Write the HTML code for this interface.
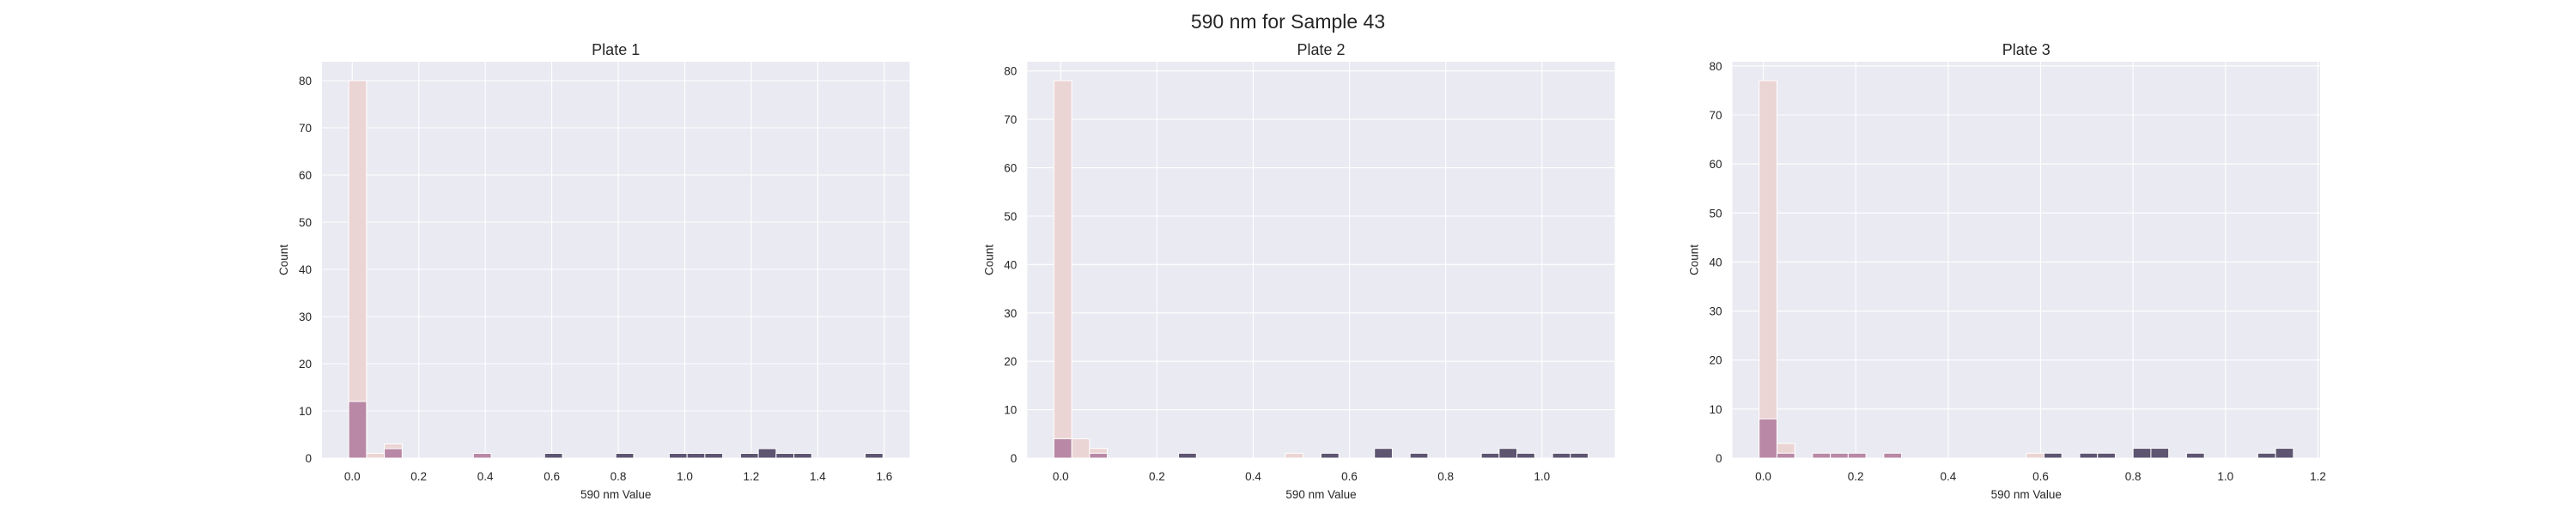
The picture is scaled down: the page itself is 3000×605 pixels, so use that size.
<!DOCTYPE html>
<html><head><meta charset="utf-8"><style>
html,body{margin:0;padding:0;background:#fff;}
svg text{font-family:"Liberation Sans",sans-serif;fill:#262626;}
</style></head><body>
<svg id="fig" xmlns="http://www.w3.org/2000/svg" width="3000" height="600" viewBox="0 0 3000 600">
<rect width="3000" height="600" fill="#fff"/>
<text x="1500" y="33" font-size="23" text-anchor="middle">590 nm for Sample 43</text>
</svg>
<script>
// Plate 1
const p1Light = {0:80,1:1,2:3};
const p1Mid = {0:12,2:2,7:1};
const p1Dark = {11:1,15:1,18:1,19:1,20:1,22:1,23:2,24:1,25:1,29:1};
const p1XTicks = [0.0,0.2,0.4,0.6,0.8,1.0,1.2,1.4,1.6];
const p1Range = [-0.0107, 1.596];
// Plate 2
const p2Light = {0:78,1:4,2:2,13:1};
const p2Mid = {0:4,2:1};
const p2Dark = {7:1,15:1,18:2,20:1,24:1,25:2,26:1,28:1,29:1};
const p2XTicks = [0.0,0.2,0.4,0.6,0.8,1.0];
const p2Range = [-0.0141, 1.096];
// Plate 3
const p3Light = {0:77,1:3,15:1};
const p3Mid = {0:8,1:1,3:1,4:1,5:1,7:1};
const p3Dark = {16:1,18:1,19:1,21:2,22:2,24:1,28:1,29:2};
const p3XTicks = [0.0,0.2,0.4,0.6,0.8,1.0,1.2];
const p3Range = [-0.009, 1.1468];
const yTicks = [0,10,20,30,40,50,60,70,80];
const plateNames = ["Plate 1","Plate 2","Plate 3"];
const nBins = 30;

const NS="http://www.w3.org/2000/svg";
const svg=document.getElementById('fig');
function mk(tag,attrs,parent){const e=document.createElementNS(NS,tag);for(const k in attrs)e.setAttribute(k,attrs[k]);(parent||svg).appendChild(e);return e;}
const axW=684.4, axTop=72, axBot=534;
const axLefts=[375, 375+axW*1.2, 375+axW*2.4];
const plates=[[p1Light,p1Mid,p1Dark,p1XTicks,p1Range],[p2Light,p2Mid,p2Dark,p2XTicks,p2Range],[p3Light,p3Mid,p3Dark,p3XTicks,p3Range]];
const colors=["#ebd5d4","#b988a6","#5e5571"];
plates.forEach((p,i)=>{
  const [L,M,D,xt,rg]=p;
  const R=rg[1]-rg[0], x0=rg[0]-0.05*R, x1=rg[1]+0.05*R;
  const left=axLefts[i];
  const sx=v=>left+(v-x0)/(x1-x0)*axW;
  const all=[L,M,D].flatMap(o=>Object.values(o));
  const ymax=Math.max(...all)*1.05;
  const sy=v=>axBot-v/ymax*(axBot-axTop);
  const g=mk('g',{});
  
  
  mk('rect',{x:left,y:axTop,width:axW,height:axBot-axTop,fill:'#eaeaf2'},g);
  yTicks.forEach(t=>{ if(t>ymax)return; const y=sy(t);
    mk('line',{x1:left,x2:left+axW,y1:y,y2:y,stroke:'#fff','stroke-width':1.1},g);
    const tx=mk('text',{x:left-12,y:y+5,'font-size':13.5,'text-anchor':'end'},g);
    
    
    tx.textContent=t;});
  xt.forEach(t=>{const x=sx(t);
    mk('line',{x1:x,x2:x,y1:axTop,y2:axBot,stroke:'#fff','stroke-width':1.1},g);
    const tx=mk('text',{x:x,y:560,'font-size':13.5,'text-anchor':'middle'},g);
    
    
    tx.textContent=t.toFixed(1);});
  const w=R/nBins;
  [L,M,D].forEach((ser,si)=>{
    for(const k in ser){const b=+k, v=ser[k];
      const xa=sx(rg[0]+b*w), xb=sx(rg[0]+(b+1)*w);
      const r=mk('rect',{x:xa,y:sy(v),width:xb-xa,height:axBot-sy(v),fill:colors[si],stroke:'#fff','stroke-width':1},g);
      
      
    }});
  const t=mk('text',{x:left+axW/2,y:64,'font-size':18,'text-anchor':'middle'},g);
  
  
  t.textContent=plateNames[i];
  const xl=mk('text',{x:left+axW/2,y:581,'font-size':13.5,'text-anchor':'middle'},g);
  
  
  xl.textContent='590 nm Value';
  const yl=mk('text',{x:0,y:0,'font-size':13.5,'text-anchor':'middle',transform:'translate('+(left-40)+','+((axTop+axBot)/2)+') rotate(-90)'},g);
  
  
  yl.textContent='Count';
});
</script>
</body></html>
